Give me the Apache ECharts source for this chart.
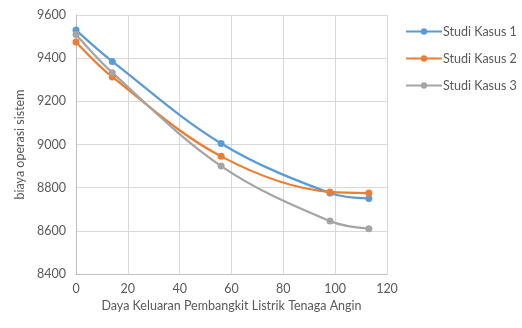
<!DOCTYPE html>
<html><head><meta charset="utf-8">
<script src="https://cdn.jsdelivr.net/npm/echarts@6/dist/echarts.min.js"></script>
<style>html,body{margin:0;padding:0;background:#fff}#c{width:522px;height:328px}</style>
</head><body><div id="c"></div>
<script>
const xValues = [0, 14, 56, 98, 113];
const seriesNames = ['Studi Kasus 1', 'Studi Kasus 2', 'Studi Kasus 3'];
const kasus1 = [9530, 9385, 9005, 8775, 8750];
const kasus2 = [9475, 9313, 8945, 8780, 8775];
const kasus3 = [9510, 9333, 8900, 8645, 8610];
const colors = ['#5B9BD5', '#ED7D31', '#A5A5A5'];
const xTitle = 'Daya Keluaran Pembangkit Listrik Tenaga Angin';
const yTitle = 'biaya operasi sistem';

const allData = [kasus1, kasus2, kasus3];
const font = 'Lato, "Open Sans", sans-serif';
const chart = echarts.init(document.getElementById('c'), null, {renderer: 'canvas'});
chart.setOption({
  animation: false,
  color: colors,
  textStyle: {fontFamily: font},
  grid: {left: 76, right: 135, top: 15, bottom: 54, containLabel: false},
  legend: {
    orient: 'vertical', left: 400, top: 20, itemGap: 14,
    itemWidth: 36, itemHeight: 8,
    textStyle: {color: '#595959', fontSize: 12.5, fontFamily: font, padding: [0, 0, 0, -4]},
    data: seriesNames
  },
  xAxis: {
    type: 'value', min: 0, max: 120, interval: 20,
    name: xTitle, nameLocation: 'middle', nameGap: 21,
    nameTextStyle: {color: '#595959', fontSize: 12.5, fontFamily: font},
    axisLine: {show: true, lineStyle: {color: '#bfbfbf'}},
    axisTick: {show: false},
    axisLabel: {color: '#595959', fontSize: 12.5, margin: 8},
    splitLine: {show: true, lineStyle: {color: '#d9d9d9'}}
  },
  yAxis: {
    type: 'value', min: 8400, max: 9600, interval: 200,
    name: yTitle, nameLocation: 'middle', nameGap: 50, nameRotate: 90,
    nameTextStyle: {color: '#595959', fontSize: 12.5, fontFamily: font},
    axisLine: {show: true, lineStyle: {color: '#bfbfbf'}},
    axisTick: {show: false},
    axisLabel: {color: '#595959', fontSize: 12.5, margin: 10, formatter: v => String(v)},
    splitLine: {show: true, lineStyle: {color: '#d9d9d9'}}
  },
  series: seriesNames.map((n, i) => ({
    name: n, type: 'line', smooth: 0.35,
    symbol: 'circle', symbolSize: 7,
    lineStyle: {width: 2.25, color: colors[i]},
    itemStyle: {color: colors[i]},
    data: xValues.map((x, j) => [x, allData[i][j]])
  }))
});
</script></body></html>
